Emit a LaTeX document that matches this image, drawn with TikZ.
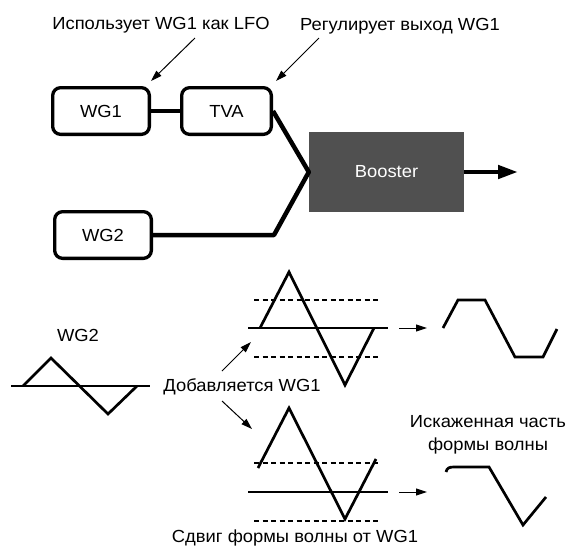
\documentclass[tikz,border=0pt]{standalone}
\usepackage{fontspec}
\setmainfont{Liberation Sans}[FakeStretch=1.05]
\usetikzlibrary{arrows.meta, calc}
\definecolor{boostergray}{RGB}{80,80,80}

\begin{document}
\begin{tikzpicture}[x=1pt, y=-1pt,
    every node/.style={font=\fontsize{17.5}{23}\selectfont},
    unit/.style={draw, line width=3.3pt, rounded corners=8pt,
      minimum width=96.7pt, minimum height=46.7pt, inner sep=0pt},
    wire/.style={line width=4.5pt},
    wave/.style={line width=2.7pt},
    axis/.style={line width=1.3pt},
    level/.style={line width=1.3pt, dash pattern=on 5pt off 3.5pt},
    pointer/.style={line width=1pt, -{Triangle[length=11pt,width=7pt]}}]

    \useasboundingbox (0,0) rectangle (571,550);

    % Callouts
    \node (lfo) at (161,25) {Использует WG1 как LFO};
    \node (reg) at (400,26) {Регулирует выход WG1};

    % Units
    \node[unit] (wg1) at (101,111) {WG1};
    \node[unit, minimum width=89.7pt] (tva) at (226.5,111) {TVA};
    \node[unit] (wg2) at (103,235) {WG2};
    \node[fill=boostergray, text=white, minimum width=155pt,
      minimum height=80pt] (booster) at (386.5,172) {Booster};

    % Callout arrows
    \coordinate (lfo start) at (195,38);
    \coordinate (lfo end) at ([shift={(0,-5)}]wg1.north east);
    \coordinate (reg start) at (319,38);
    \coordinate (reg end) at ([shift={(3,-5)}]tva.north east);
    \draw[pointer] (lfo start) -- (lfo end);
    \draw[pointer] (reg start) -- (reg end);

    % Signal path
    \coordinate (bend) at (274,235);
    \coordinate (out) at (518,172);
    \draw[wire] (wg1) -- (tva);
    \draw[wire, line join=round] (tva.east) -- (booster.west) -- (bend) -- (wg2.east);
    \draw[wire, -{Triangle[length=20pt,width=13pt]}] (booster.east) -- (out);

    % WG2 alone
    \node (wg2 lbl) at (78,335) {WG2};
    \draw[axis] (11,386) -- (150,386);
    \draw[wave] (23,386) -- (51,358) -- (108,414) -- (137,386);

    % WG1 added
    \node (add) at (242,387) {Добавляется WG1};
    \coordinate (up start) at (222,371);
    \coordinate (up end) at (251,342);
    \coordinate (down start) at (222,401);
    \coordinate (down end) at (252,429);
    \draw[pointer] (up start) -- (up end);
    \draw[pointer] (down start) -- (down end);

    % Upper case
    \draw[axis] (248,328) -- (388,328);
    \draw[level] (254,300) -- (380,300) (254,357) -- (380,357);
    \draw[wave] (260,328) -- (289,272) -- (345,385) -- (374,328);
    \coordinate (clip1 start) at (399,328);
    \coordinate (clip1 end) at (427,328);
    \draw[pointer] (clip1 start) -- (clip1 end);
    \draw[wave] (443,328) -- (458,300) -- (485,300) -- (515,357) -- (543,357) -- (557,329);

    % Lower case
    \draw[axis] (248,492) -- (388,492);
    \draw[level] (254,463) -- (380,463) (254,521) -- (380,521);
    \draw[wave] (258,468) -- (289,408) -- (345,519) -- (376,459);
    \coordinate (clip2 start) at (399,492);
    \coordinate (clip2 end) at (427,492);
    \draw[pointer] (clip2 start) -- (clip2 end);
    \draw[wave] (446,472) .. controls (447,468) and (449,467) .. (454,467)
      -- (489,467) -- (523,525) -- (546,497);

    \node[align=center] (dist) at (488,435) {Искаженная часть\\формы волны};
    \node (shift) at (295,538) {Сдвиг формы волны от WG1};

\end{tikzpicture}
\end{document}
